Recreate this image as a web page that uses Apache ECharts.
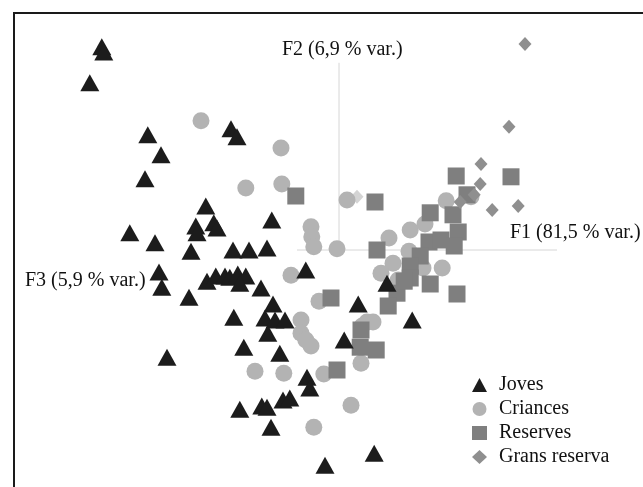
<!DOCTYPE html>
<html>
<head>
<meta charset="utf-8">
<script src="https://cdn.jsdelivr.net/npm/echarts@6/dist/echarts.min.js"></script>
<style>
  html, body { margin: 0; padding: 0; background: #ffffff; }
  #chart { width: 643px; height: 487px; }
</style>
</head>
<body>
<div id="chart"></div>
<script>
// PCA scores (F1, F2) per wine group
const joves = [
  [-5.93, 5.08], [-5.88, 4.95], [-6.23, 4.18], [-2.70, 3.03], [-2.55, 2.83],
  [-4.78, 2.88], [-4.45, 2.38], [-4.85, 1.78], [-3.33, 1.10], [-3.58, 0.60],
  [-3.55, 0.43], [-3.13, 0.68], [-3.05, 0.55], [-5.23, 0.43], [-4.60, 0.18],
  [-3.70, -0.03], [-1.68, 0.75], [-2.65, 0.00], [-2.25, 0.00], [-1.80, 0.05],
  [-4.50, -0.55], [-4.43, -0.93], [-3.75, -1.18], [-3.30, -0.78], [-3.08, -0.65],
  [-2.85, -0.65], [-2.73, -0.68], [-2.53, -0.60], [-2.33, -0.65], [-2.48, -0.83],
  [-0.83, -0.50], [-1.95, -0.95], [-1.65, -1.35], [-1.85, -1.70], [-1.60, -1.75],
  [-1.35, -1.75], [-1.78, -2.08], [-2.63, -1.68], [-2.38, -2.43], [-1.48, -2.58],
  [-4.30, -2.68], [-0.80, -3.18], [-0.73, -3.45], [0.13, -2.25], [0.48, -1.35],
  [1.20, -0.83], [1.83, -1.75], [-2.48, -3.98], [-1.93, -3.90], [-1.80, -3.93],
  [-1.40, -3.75], [-1.23, -3.70], [-1.70, -4.43], [-0.35, -5.38], [0.88, -5.08]
];
const criances = [
  [-3.45, 3.23], [-1.45, 2.55], [-2.33, 1.55], [-1.43, 1.65], [0.20, 1.25],
  [-0.70, 0.58], [-0.68, 0.33], [-0.63, 0.08], [-0.05, 0.03], [-1.20, -0.63],
  [-0.50, -1.28], [-0.95, -1.75], [-0.95, -2.08], [-0.83, -2.25], [-0.70, -2.40],
  [-2.10, -3.03], [-1.38, -3.08], [-0.38, -3.10], [0.30, -3.88], [-0.63, -4.43],
  [0.55, -2.83], [0.58, -1.90], [0.70, -1.80], [0.85, -1.80], [1.25, 0.30],
  [1.78, 0.50], [2.15, 0.65], [2.68, 1.23], [1.75, -0.03], [1.35, -0.33],
  [1.05, -0.58], [2.10, -0.45], [2.58, -0.45], [3.30, 1.33], [1.48, -0.75]
];
const reserves = [
  [-1.08, 1.35], [0.90, 1.20], [2.93, 1.85], [4.30, 1.83], [3.20, 1.38],
  [2.28, 0.93], [2.85, 0.88], [2.98, 0.45], [2.25, 0.20], [2.55, 0.25],
  [2.88, 0.10], [2.03, -0.15], [0.95, 0.00], [1.78, -0.40], [1.78, -0.70],
  [2.28, -0.85], [2.95, -1.10], [1.45, -1.08], [1.63, -0.78], [1.23, -1.40],
  [-0.20, -1.20], [-0.05, -3.00], [0.53, -2.43], [0.93, -2.50], [0.55, -2.00]
];
const gransReserva = [
  [4.65, 5.15], [4.25, 3.08], [3.55, 2.15], [3.53, 1.65], [3.83, 1.00],
  [4.48, 1.10], [3.38, 1.38], [3.03, 1.20]
];
// one sample partly hidden behind a Criances point, drawn paler
const gransReservaBehind = [[0.45, 1.33]];

// factor axes drawn through the origin
const axisF1 = [[-1.05, 0], [5.45, 0]];
const axisF2 = [[0, 0], [0, 4.68]];

const groupNames = ['Joves', 'Criances', 'Reserves', 'Grans reserva'];
const axisLabels = ['F1 (81,5 % var.)', 'F2 (6,9 % var.)', 'F3 (5,9 % var.)'];

const serif = '"Liberation Serif", "Times New Roman", serif';
const chart = echarts.init(document.getElementById('chart'), null, { renderer: 'canvas' });

function axisLine(data) {
  return {
    type: 'line', data: data, symbol: 'none', silent: true, z: 1,
    lineStyle: { color: '#d6d6d6', width: 1 }, animation: false
  };
}
function scatter(name, data, symbol, size, color, z) {
  return {
    name: name, type: 'scatter', data: data, symbol: symbol, symbolSize: size,
    itemStyle: { color: color, opacity: 1 }, z: z, clip: false, animation: false
  };
}

chart.setOption({
  backgroundColor: '#ffffff',
  animation: false,
  grid: { left: 19, width: 600, top: 30, height: 440 },
  xAxis: { type: 'value', min: -8, max: 7, show: false },
  yAxis: { type: 'value', min: -5.5, max: 5.5, show: false },
  legend: {
    data: groupNames,
    orient: 'vertical',
    left: 472, top: 373, padding: 0,
    itemWidth: 15, itemHeight: 14, itemGap: 0,
    textStyle: { fontFamily: serif, fontSize: 20, color: '#111', lineHeight: 24, padding: [0, 0, 0, 7] },
    selectedMode: false
  },
  graphic: [
    { type: 'rect', shape: { x: 14, y: 13, width: 660, height: 500 },
      style: { fill: 'none', stroke: '#1a1a1a', lineWidth: 2 }, silent: true, z: 0 },
    { type: 'text', left: 510, top: 223,
      style: { text: axisLabels[0], font: '20px ' + serif, fill: '#111' } },
    { type: 'text', left: 282, top: 40,
      style: { text: axisLabels[1], font: '20px ' + serif, fill: '#111' } },
    { type: 'text', left: 25, top: 271,
      style: { text: axisLabels[2], font: '20px ' + serif, fill: '#111' } }
  ],
  series: [
    axisLine(axisF1),
    axisLine(axisF2),
    Object.assign(scatter('Grans reserva (darrere)', gransReservaBehind, 'diamond', [13, 14], '#d4d4d4', 2), { legendHoverLink: false }),
    scatter(groupNames[1], criances, 'circle', 17, '#b3b3b3', 3),
    scatter(groupNames[2], reserves, 'rect', 17, '#7f7f7f', 4),
    scatter(groupNames[3], gransReserva, 'diamond', [13, 14], '#8f8f8f', 5),
    scatter(groupNames[0], joves, 'triangle', [19, 17], '#1c1c1c', 6)
  ]
});
</script>
</body>
</html>
